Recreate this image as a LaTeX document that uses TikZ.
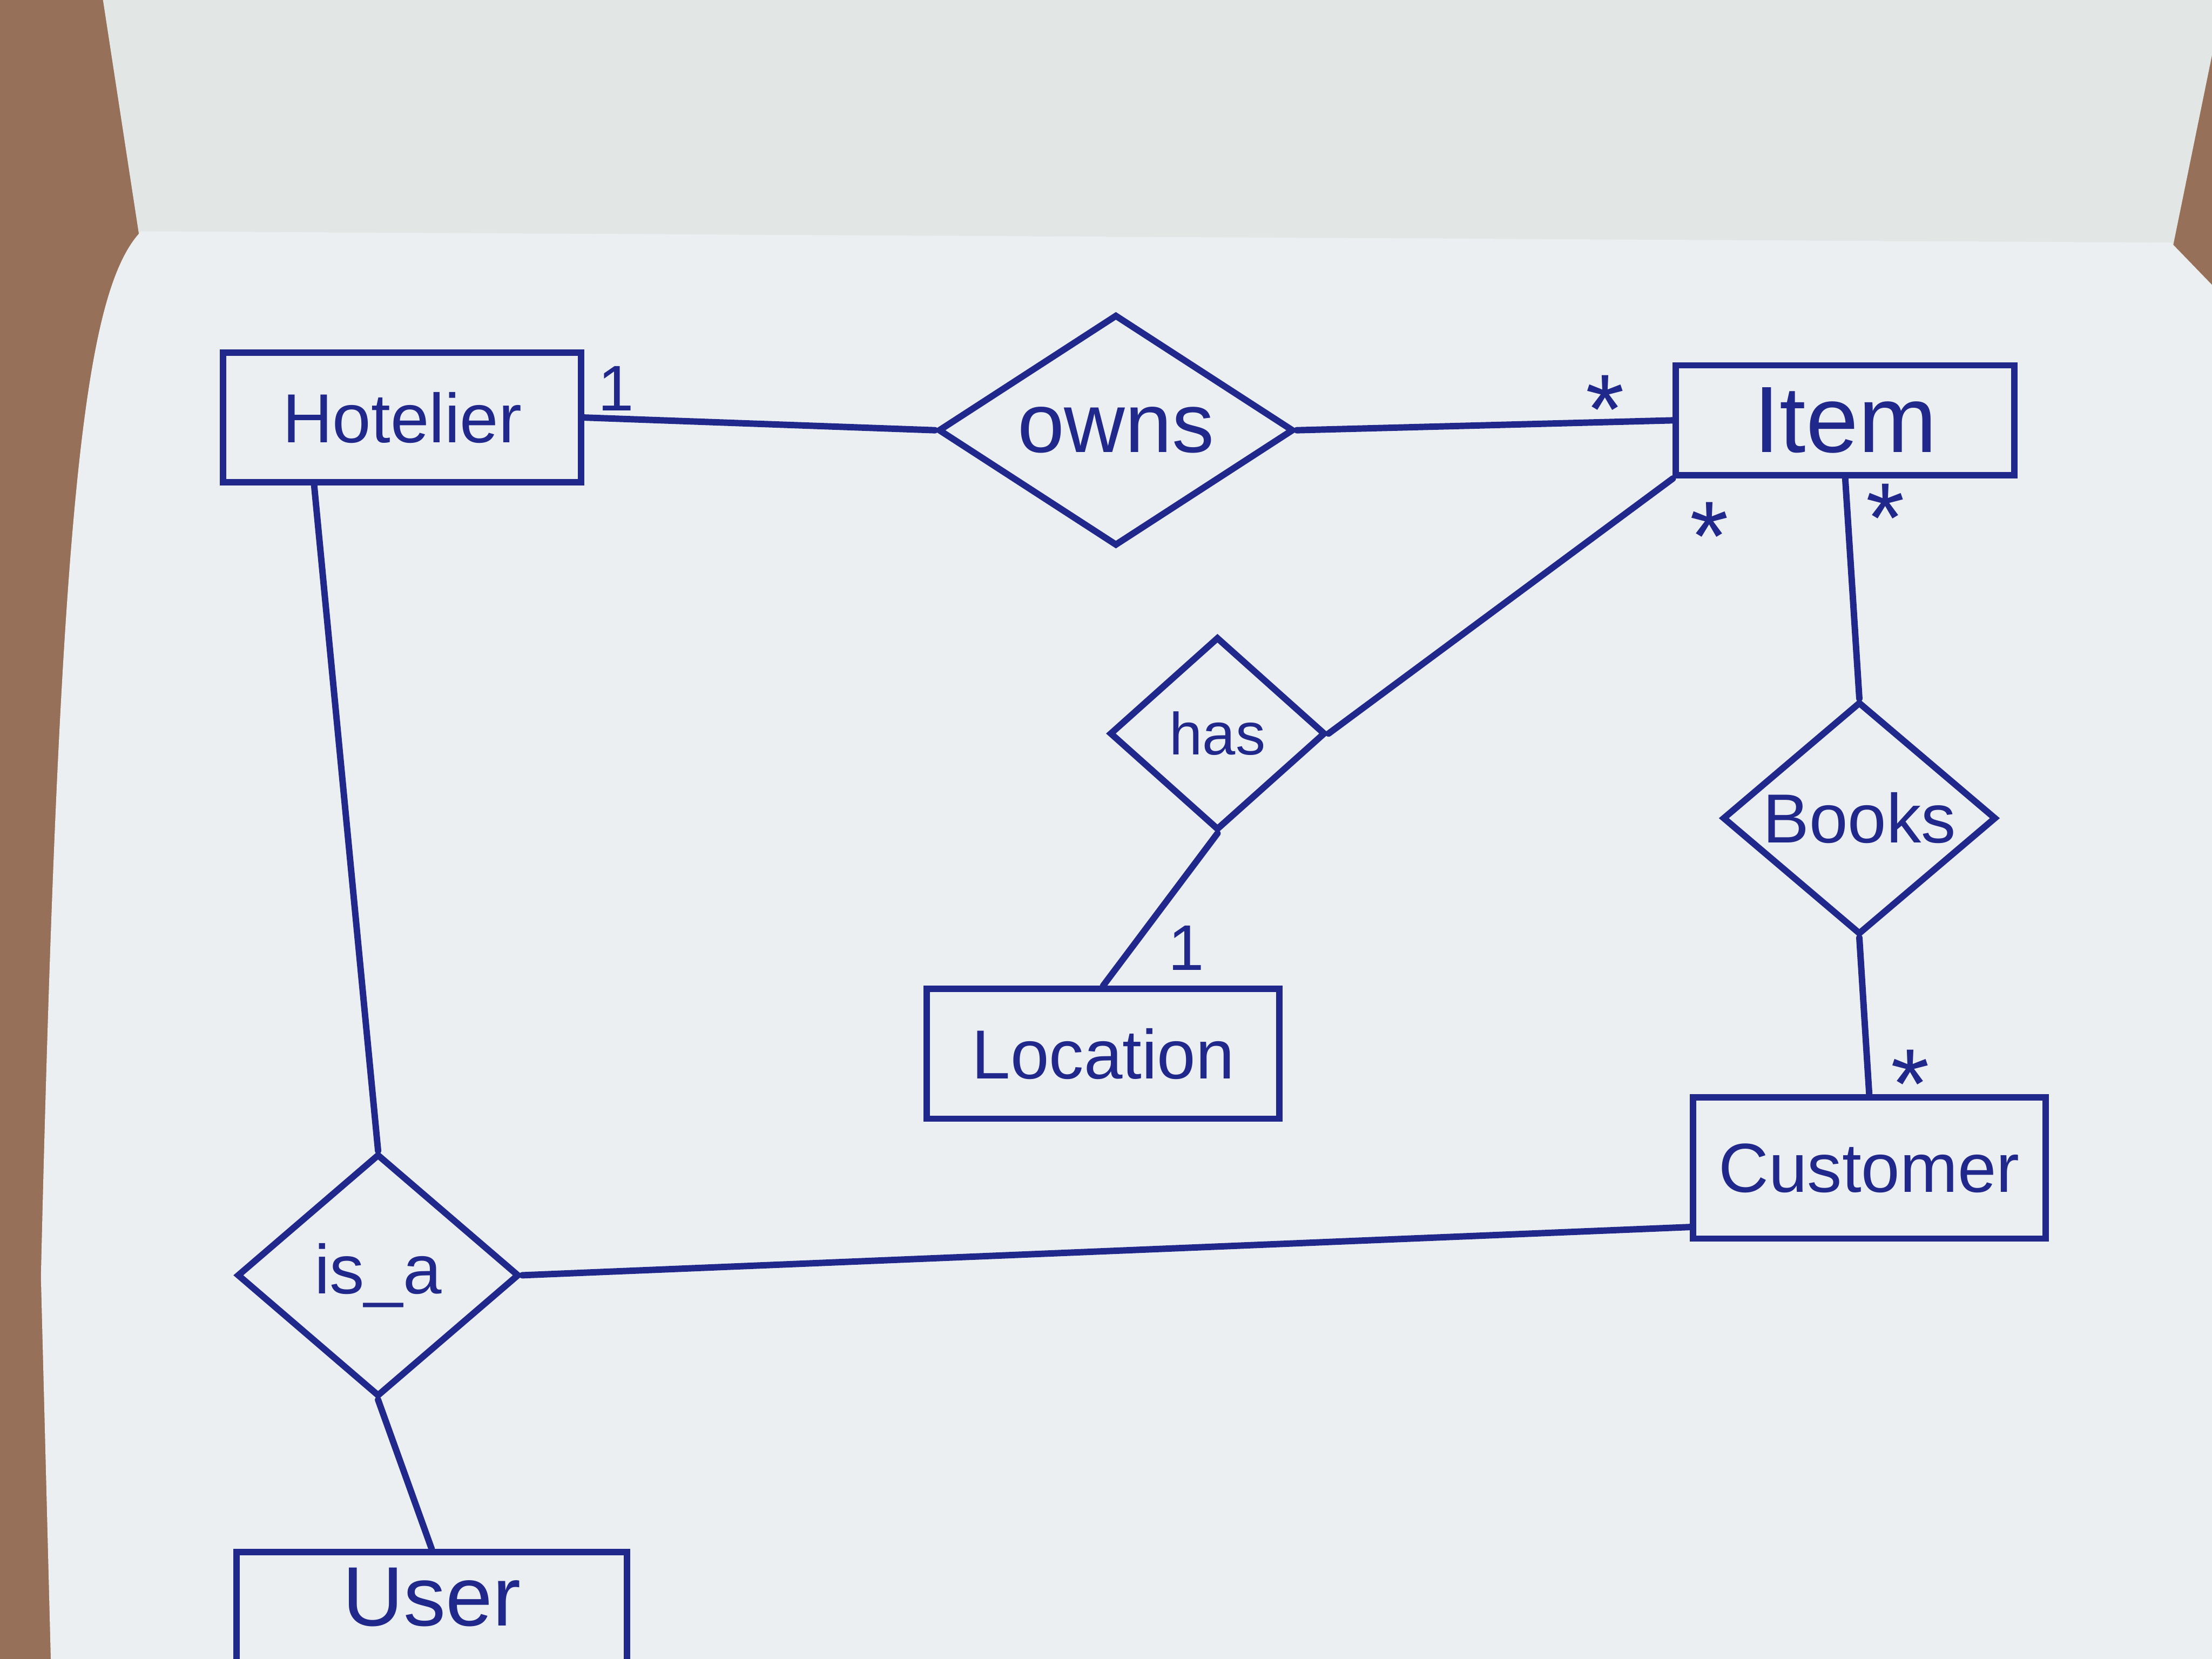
\documentclass[tikz,border=0pt]{standalone}
\usepackage{fontspec}
\setmainfont{Liberation Sans}
\usepackage{tikz}
\usetikzlibrary{shapes,shapes.geometric,positioning,calc}
\definecolor{ink}{RGB}{32,40,140}
\definecolor{paper}{RGB}{236,239,241}
\definecolor{paperback}{RGB}{226,230,229}
\definecolor{wood}{RGB}{150,112,88}
\tikzset{
  erentity/.style={draw=ink, line width=1.3pt, rectangle, text=ink,
    font=\fontsize{14}{16}\selectfont, inner sep=2pt},
  errel/.style={draw=ink, line width=1.3pt, diamond, text=ink,
    font=\fontsize{14}{16}\selectfont, inner sep=0pt},
  erlink/.style={draw=ink, line width=1.3pt, line cap=round},
  ercard/.style={text=ink, font=\fontsize{20}{20}\selectfont, inner sep=1pt},
}

\begin{document}
\begin{tikzpicture}[x=1cm, y=1cm]
%% paper
\useasboundingbox (0,0) rectangle (15.68,11.76);
\clip (0,0) rectangle (15.68,11.76);
\fill[wood] (0,0) rectangle (15.68,11.76);
\fill[paperback] (0.73,11.76) -- (1.00,10.00) -- (15.39,9.95) -- (15.68,11.37)
  -- (15.68,11.76) -- cycle;
\fill[paper] (1.00,10.12) -- (15.39,10.04) -- (15.68,9.74) -- (15.68,0) -- (0.36,0)
  -- (0.29,2.71) .. controls (0.42,8.2) and (0.60,9.7) .. cycle;

%% entities and relations
\node[erentity, minimum width=2.54cm, minimum height=0.92cm] (hotelier) at (2.85, 8.80) {Hotelier};
\node[errel, minimum width=2.52cm, minimum height=1.64cm, aspect=1.54,
  font=\fontsize{17}{19}\selectfont] (owns) at (7.91, 8.71) {owns};
\node[erentity, minimum width=2.40cm, minimum height=0.78cm,
  font=\fontsize{19}{21}\selectfont] (item) at (13.08, 8.78) {Item};
\node[errel, minimum width=1.53cm, minimum height=1.37cm, aspect=1.1,
  font=\fontsize{12}{14}\selectfont] (has) at (8.63, 6.56) {has};
\node[errel, minimum width=1.94cm, minimum height=1.65cm, aspect=1.2] (books) at (13.18, 5.96) {Books};
\node[erentity, minimum width=2.50cm, minimum height=0.92cm] (location) at (7.82, 4.29) {Location};
\node[erentity, minimum width=2.50cm, minimum height=1.00cm] (customer) at (13.25, 3.48) {Customer};
\node[errel, minimum width=2.00cm, minimum height=1.72cm, aspect=1.2] (isa) at (2.68, 2.72) {is\_a};
\node[erentity, anchor=north, minimum width=2.77cm, text height=0.44cm, text depth=0.5cm,
  inner ysep=0.08cm, font=\fontsize{17}{19}\selectfont] (user) at (3.06, 0.78) {User};

%% links
\draw[erlink] (hotelier.east) -- node[ercard, pos=0.09, above, font=\fontsize{13}{13}\selectfont]{1} (owns.west);
\draw[erlink] (owns.east) -- node[ercard, pos=0.82, above, yshift=-6pt]{*} (item.west);
\draw[erlink] (item.south west) -- node[ercard, pos=0.06, below right, xshift=6pt]{*} (has.east);
\draw[erlink] (has.south) -- node[ercard, pos=0.85, right, xshift=8pt, yshift=3pt,
  font=\fontsize{13}{13}\selectfont]{1} (location.north);
\draw[erlink] (item.south) -- node[ercard, pos=0.18, right, xshift=2pt]{*} (books.north);
\draw[erlink] (books.south) -- node[ercard, pos=0.87, right, xshift=3pt, yshift=-2pt]{*} (customer.north);
\draw[erlink] ($(hotelier.south west)+(0.67,0)$) -- (isa.north);
\draw[erlink] (isa.east) -- ($(customer.west)!0.8!(customer.south west)$);
\draw[erlink] (isa.south) -- (user.north);
\end{tikzpicture}
\end{document}
